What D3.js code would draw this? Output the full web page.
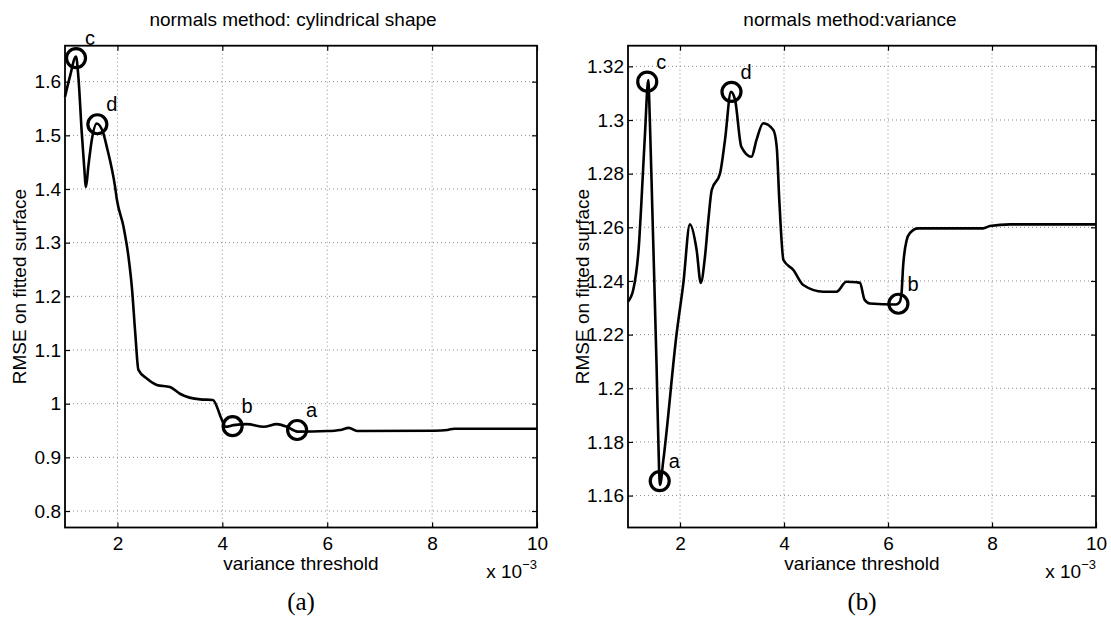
<!DOCTYPE html>
<html>
<head>
<meta charset="utf-8">
<script src="https://cdn.jsdelivr.net/npm/d3@7"></script>
<style>
  body { margin: 0; background: #fff; }
  text { font-family: "Liberation Sans", Arial, Helvetica, sans-serif; fill: #000; }
</style>
</head>
<body>
<svg id="chart" width="1111" height="637"></svg>
<script>
// x axis is in units of 10^-3
const xTicks = [2, 4, 6, 8, 10];
const leftYTicks = [0.8, 0.9, 1, 1.1, 1.2, 1.3, 1.4, 1.5, 1.6];
const rightYTicks = [1.16, 1.18, 1.2, 1.22, 1.24, 1.26, 1.28, 1.3, 1.32];

// (a) normals method: cylindrical shape
const leftX = [1.0, 1.095, 1.21, 1.255, 1.32, 1.365, 1.40, 1.445, 1.51, 1.605, 1.73, 1.796, 1.955, 1.99,
  2.115, 2.21, 2.274, 2.34, 2.40, 2.56, 2.75, 3.0, 3.2, 3.58, 3.82, 3.99, 4.06, 4.215, 4.47, 4.79,
  5.04, 5.23, 5.43, 6.0, 6.25, 6.41, 6.57, 8.04, 8.29, 8.42, 10];
const leftY = [1.572, 1.610, 1.647, 1.609, 1.504, 1.442, 1.404, 1.442, 1.491, 1.522, 1.504, 1.479, 1.404, 1.380,
  1.330, 1.274, 1.218, 1.131, 1.063, 1.047, 1.035, 1.031, 1.018, 1.008, 1.007, 0.970, 0.957, 0.960, 0.962, 0.957,
  0.962, 0.957, 0.948, 0.949, 0.951, 0.955, 0.949, 0.9497, 0.951, 0.9534, 0.9534];
const leftMarks = [
  { label: "c", x: 1.21, y: 1.644 },
  { label: "d", x: 1.617, y: 1.5206 },
  { label: "b", x: 4.196, y: 0.958 },
  { label: "a", x: 5.426, y: 0.951 }
];

// (b) normals method:variance
const rightX = [1.0, 1.10, 1.217, 1.26, 1.327, 1.39, 1.42, 1.47, 1.55, 1.596, 1.615, 1.68, 1.936, 2.064,
  2.19, 2.32, 2.40, 2.48, 2.545, 2.61, 2.77, 2.865, 2.98, 3.06, 3.18, 3.375, 3.47, 3.60, 3.795, 3.86,
  3.91, 3.99, 4.18, 4.37, 4.756, 5.01, 5.2, 5.40, 5.46, 5.55, 5.65, 6.15, 6.22, 6.26, 6.29, 6.36,
  6.42, 6.58, 7.83, 7.96, 8.35, 10];
const rightY = [1.2323, 1.2366, 1.2553, 1.2702, 1.295, 1.3149, 1.300, 1.265, 1.208, 1.1708, 1.164, 1.1733, 1.2205, 1.2391,
  1.2611, 1.2515, 1.2393, 1.249, 1.2627, 1.2739, 1.2801, 1.2925, 1.3105, 1.3074, 1.290, 1.2863, 1.2925, 1.2988, 1.2963, 1.290,
  1.270, 1.2478, 1.2441, 1.2385, 1.236, 1.236, 1.2397, 1.2395, 1.2393, 1.233, 1.2316, 1.2312, 1.232, 1.2354, 1.2453, 1.2553,
  1.2578, 1.2596, 1.2596, 1.2605, 1.2611, 1.2611];
const rightMarks = [
  { label: "c", x: 1.37, y: 1.3143 },
  { label: "a", x: 1.61, y: 1.1654 },
  { label: "d", x: 2.99, y: 1.3105 },
  { label: "b", x: 6.2, y: 1.2315 }
];

const svg = d3.select("#chart");

function drawPanel(opt) {
  const x = d3.scaleLinear().domain([1, 10]).range([opt.left, opt.right]);
  const y = d3.scaleLinear().domain(opt.yDomain).range([opt.bottom, opt.top]);
  const g = svg.append("g");

  // dotted grid
  g.selectAll("line.vgrid")
    .data(xTicks.filter(d => d < 10))
    .enter().append("line")
    .attr("x1", d => x(d)).attr("x2", d => x(d))
    .attr("y1", opt.top).attr("y2", opt.bottom)
    .attr("stroke", "#8a8a8a").attr("stroke-width", 1)
    .attr("stroke-dasharray", "1,3");
  g.selectAll("line.hgrid")
    .data(opt.yTicks)
    .enter().append("line")
    .attr("x1", opt.left).attr("x2", opt.right)
    .attr("y1", d => y(d)).attr("y2", d => y(d))
    .attr("stroke", "#8a8a8a").attr("stroke-width", 1)
    .attr("stroke-dasharray", "1,3");

  // axes, ticks pointing inward on all sides
  const fmt = d3.format("~g");
  g.append("g")
    .attr("transform", `translate(0,${opt.bottom})`)
    .call(d3.axisBottom(x).tickValues(xTicks).tickSizeInner(-5).tickSizeOuter(0).tickPadding(9).tickFormat(fmt))
    .call(a => a.select(".domain").remove());
  g.append("g")
    .attr("transform", `translate(0,${opt.top})`)
    .call(d3.axisTop(x).tickValues(xTicks).tickSizeInner(-5).tickSizeOuter(0).tickFormat(""))
    .call(a => a.select(".domain").remove());
  g.append("g")
    .attr("transform", `translate(${opt.left},0)`)
    .call(d3.axisLeft(y).tickValues(opt.yTicks).tickSizeInner(-5).tickSizeOuter(0).tickPadding(4).tickFormat(fmt))
    .call(a => a.select(".domain").remove());
  g.append("g")
    .attr("transform", `translate(${opt.right},0)`)
    .call(d3.axisRight(y).tickValues(opt.yTicks).tickSizeInner(-5).tickSizeOuter(0).tickFormat(""))
    .call(a => a.select(".domain").remove());
  g.selectAll(".tick line").attr("stroke", "#000").attr("stroke-width", 1.2);
  g.selectAll(".tick text").style("font-size", "19px").attr("fill", "#000")
    .style("font-family", "'Liberation Sans', Arial, sans-serif");

  g.append("rect")
    .attr("x", opt.left).attr("y", opt.top)
    .attr("width", opt.right - opt.left).attr("height", opt.bottom - opt.top)
    .attr("fill", "none").attr("stroke", "#000").attr("stroke-width", 1.8);

  // curve
  const pts = opt.xs.map((d, i) => [d, opt.ys[i]]);
  g.append("path")
    .datum(pts)
    .attr("fill", "none").attr("stroke", "#000").attr("stroke-width", 2.6)
    .attr("stroke-linejoin", "round")
    .attr("d", d3.line().x(d => x(d[0])).y(d => y(d[1])).curve(d3.curveMonotoneX));

  // circled points
  g.selectAll("circle.mark")
    .data(opt.marks)
    .enter().append("circle")
    .attr("cx", d => x(d.x)).attr("cy", d => y(d.y)).attr("r", 9.5)
    .attr("fill", "none").attr("stroke", "#000").attr("stroke-width", 3.2);
  g.selectAll("text.mark")
    .data(opt.marks)
    .enter().append("text")
    .attr("x", d => x(d.x) + 9)
    .attr("y", d => y(d.y) - 13)
    .style("font-size", "20px")
    .text(d => d.label);

  // titles and labels
  g.append("text")
    .attr("x", opt.titleX).attr("y", 26)
    .attr("text-anchor", "middle").style("font-size", "19px")
    .text(opt.title);
  g.append("text")
    .attr("x", (opt.left + opt.right) / 2).attr("y", 570)
    .attr("text-anchor", "middle").style("font-size", "19px")
    .text("variance threshold");
  g.append("text")
    .attr("transform", `translate(${opt.left - 39},${(opt.top + opt.bottom) / 2}) rotate(-90)`)
    .attr("text-anchor", "middle").style("font-size", "19px")
    .text("RMSE on fitted surface");
  const ex = g.append("text")
    .attr("x", opt.right).attr("y", 578)
    .attr("text-anchor", "end").style("font-size", "19px");
  ex.append("tspan").text("x 10");
  ex.append("tspan").attr("dy", -9).style("font-size", "13px").text("\u22123");

  g.append("text")
    .attr("x", (opt.left + opt.right) / 2).attr("y", 610)
    .attr("text-anchor", "middle")
    .style("font-family", "'Liberation Serif', 'DejaVu Serif', serif")
    .style("font-size", "25px")
    .text(opt.caption);
}

drawPanel({
  left: 65, right: 537, top: 45.7, bottom: 527.5,
  yDomain: [0.7693, 1.667], yTicks: leftYTicks,
  xs: leftX, ys: leftY, marks: leftMarks,
  title: "normals method: cylindrical shape", titleX: 293, caption: "(a)"
});
drawPanel({
  left: 628, right: 1096, top: 45.7, bottom: 527.5,
  yDomain: [1.1481, 1.3277], yTicks: rightYTicks,
  xs: rightX, ys: rightY, marks: rightMarks,
  title: "normals method:variance", titleX: 850, caption: "(b)"
});
</script>
</body>
</html>
